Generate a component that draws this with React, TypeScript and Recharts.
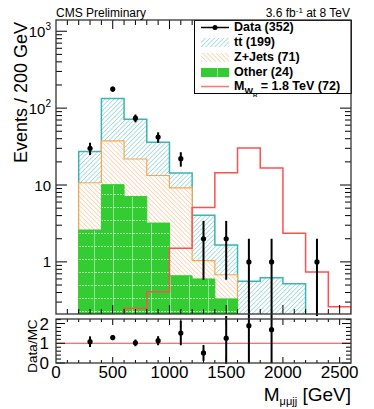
import React from 'react';
import { ComposedChart, Area, Line, Scatter, ErrorBar, XAxis, YAxis, ReferenceLine, Legend } from 'recharts';

const FONT = "'Liberation Sans', Arial, Helvetica, sans-serif";

// histogram bins: lower edges in GeV, last bin closes at 2600
const binLow = [0, 200, 400, 600, 800, 1000, 1200, 1400, 1600, 1800, 2000, 2200, 2400];
const binHigh = 2600;
const ttbar = [0, 16.6, 95.5, 49.7, 22.7, 5.2, 3.0, 0.98, 0.56, 0.62, 0.52, 0, 0];
const zjets = [0, 8.1, 27.4, 14.7, 10.1, 8.5, 0.44, 0.35, 0, 0, 0, 0, 0];
const other = [0, 2.6, 10.1, 7.1, 3.2, 0.66, 0.6, 0.33, 0, 0, 0, 0, 0];
const signal = [0, 0, 0, 0.25, 0.41, 1.5, 5.1, 14.4, 30.2, 16.7, 2.35, 0.74, 0.26];

const dataMass = [300, 500, 700, 900, 1100, 1300, 1500, 1700, 1900, 2300];
const dataCount = [30, 177, 74, 42, 22, 2, 2, 1, 1, 1];

const ratioMass = [300, 500, 700, 900, 1100, 1300, 1500, 1700, 1900];
const ratioValue = [1.08, 1.29, 1.02, 1.13, 1.52, 0.51, 1.26, 1.89, 1.69];
const ratioError = [0.27, 0.13, 0.17, 0.23, 0.62, 0.4, 1.3, 1.9, 1.7];

const xMajorLabels = [0, 500, 1000, 1500, 2000, 2500];

// frame geometry (page pixels)
const PL = 56;
const PR = 351;
const PT = 20;
const PB = 314;
const MAIN_H = 316;
const RATIO_TOP = 316;
const RATIO_H = 93;
const RT = 3; // ratio pad, local coords
const RB = 47;

const Y_MIN = 0.21;
const Y_MAX = 1400;
const FLOOR = 1e-3; // empty bins sit below the axis

const lift = (v: number) => (v > 0 ? v : FLOOR);

const histRows = binLow.map((x, i) => {
  const o = other[i];
  const z = o + zjets[i];
  const t = z + ttbar[i];
  return { x, other: lift(o), zjCum: lift(z), total: lift(t), signal: lift(signal[i]) };
});
histRows.push({ x: binHigh, other: FLOOR, zjCum: FLOOR, total: FLOOR, signal: FLOOR });

const dataRows = dataMass.map((x, i) => {
  const n = dataCount[i];
  const s = Math.sqrt(n);
  return { x, y: n, err: [n - Math.max(n - s, 0.01), s] };
});

const ratioRows = ratioMass.map((x, i) => ({ x, y: ratioValue[i], err: ratioError[i] }));

const xTicks: number[] = [];
for (let v = 100; v < binHigh; v += 100) xTicks.push(v);

const yTicks: number[] = [];
[0.1, 1, 10, 100, 1000].forEach(d => {
  for (let k = 1; k <= 9; k++) {
    const v = k * d;
    if (v >= Y_MIN && v <= Y_MAX) yTicks.push(v);
  }
});

const ratioTicks: number[] = [];
for (let k = 1; k <= 11; k++) ratioTicks.push(k * 0.2);

const mainXTick = (props: any) => {
  const { x, payload } = props;
  const major = payload.value % 500 === 0;
  const len = major ? 9 : 5;
  return (
    <g>
      <line x1={x} x2={x} y1={PB} y2={PB - len} stroke="#000" />
      <line x1={x} x2={x} y1={PT} y2={PT + len} stroke="#000" />
    </g>
  );
};

const mainYTick = (props: any) => {
  const { y, payload } = props;
  const v = payload.value;
  const e = Math.round(Math.log10(v));
  const major = Math.abs(Math.log10(v) - e) < 1e-6;
  const len = major ? 11 : 6;
  return (
    <g>
      <line x1={PL} x2={PL + len} y1={y} y2={y} stroke="#000" />
      <line x1={PR} x2={PR - len} y1={y} y2={y} stroke="#000" />
      {major && (
        <text x={PL - 5} y={y + 5.5} textAnchor="end" fontSize={15} fontFamily={FONT} fill="#000">
          {e === 0 ? '1' : '10'}
          {e >= 2 && (
            <tspan dy={-7} fontSize={10}>
              {e}
            </tspan>
          )}
        </text>
      )}
    </g>
  );
};

const ratioXTick = (props: any) => {
  const { x, payload } = props;
  const v = payload.value;
  const major = v % 500 === 0;
  const len = major ? 6 : 3;
  return (
    <g>
      <line x1={x} x2={x} y1={RB} y2={RB - len} stroke="#000" />
      <line x1={x} x2={x} y1={RT} y2={RT + len} stroke="#000" />
    </g>
  );
};

const ratioYTick = (props: any) => {
  const { y, payload } = props;
  const v = payload.value;
  const major = Math.abs(v - Math.round(v)) < 1e-6;
  const len = major ? 9 : 5;
  return (
    <g>
      <line x1={PL} x2={PL + len} y1={y} y2={y} stroke="#000" />
      <line x1={PR} x2={PR - len} y1={y} y2={y} stroke="#000" />
      {major && (
        <text x={PL - 7} y={y + 6} textAnchor="end" fontSize={17} fontFamily={FONT} fill="#000">
          {Math.round(v)}
        </text>
      )}
    </g>
  );
};

const dataDot = (props: any) => <circle cx={props.cx} cy={props.cy} r={2.6} fill="#000" />;

const Patterns = ({ prefix }: { prefix: string }) => (
  <defs>
    <pattern id={`${prefix}TT`} width="3.2" height="3.2" patternUnits="userSpaceOnUse" patternTransform="rotate(45)">
      <rect width="3.2" height="3.2" fill="#fff" />
      <line x1="0" y1="0" x2="0" y2="3.2" stroke="#5fc2c2" strokeWidth="1" />
    </pattern>
    <pattern id={`${prefix}ZJ`} width="3.2" height="3.2" patternUnits="userSpaceOnUse" patternTransform="rotate(-45)">
      <rect width="3.2" height="3.2" fill="#fff" />
      <line x1="0" y1="0" x2="0" y2="3.2" stroke="#f9b377" strokeWidth="1" />
    </pattern>
    <pattern id={`${prefix}OT`} width="19" height="13" patternUnits="userSpaceOnUse">
      <rect width="19" height="13" fill="#33cc33" />
      <line x1="0" y1="12.5" x2="19" y2="12.5" stroke="#ffffff" strokeOpacity="0.55" strokeDasharray="2 1" />
      <line x1="18.5" y1="0" x2="18.5" y2="13" stroke="#ffffff" strokeOpacity="0.45" />
    </pattern>
  </defs>
);

const LegendBox = () => {
  const row = (top: number, swatch: React.ReactNode, label: React.ReactNode) => (
    <div style={{ position: 'absolute', left: 0, top, height: 15, width: '100%' }}>
      <svg width={36} height={15} style={{ position: 'absolute', left: 4, top: 0 }}>
        {swatch}
      </svg>
      <div style={{ position: 'absolute', left: 39, top: 0, lineHeight: '15px', whiteSpace: 'nowrap' }}>{label}</div>
    </div>
  );
  return (
    <div
      style={{
        position: 'relative',
        width: 158,
        height: 74,
        boxSizing: 'border-box',
        border: '1px solid #000',
        background: '#fff',
        fontFamily: FONT,
        fontWeight: 'bold',
        fontSize: 12.5,
        color: '#000',
      }}
    >
      <svg width={0} height={0} style={{ position: 'absolute' }}>
        <Patterns prefix="lg" />
      </svg>
      {row(
        -1,
        <g>
          <line x1={2} x2={30} y1={7.5} y2={7.5} stroke="#000" strokeWidth={1.5} />
          <circle cx={16} cy={7.5} r={2.5} fill="#000" />
        </g>,
        'Data (352)'
      )}
      {row(
        14,
        <rect x={2} y={3} width={28} height={9} fill="url(#lgTT)" />,
        <span>
          t<span style={{ textDecoration: 'overline' }}>t</span> (199)
        </span>
      )}
      {row(29, <rect x={2} y={3} width={28} height={9} fill="url(#lgZJ)" />, 'Z+Jets (71)')}
      {row(44, <rect x={2} y={3} width={28} height={9} fill="url(#lgOT)" />, 'Other (24)')}
      {row(
        58,
        <line x1={2} x2={30} y1={7.5} y2={7.5} stroke="#ff7777" strokeWidth={1.5} />,
        <span>
          M
          <sub style={{ fontSize: 9 }}>
            W<sub style={{ fontSize: 6 }}>R</sub>
          </sub>{' '}
          = 1.8 TeV (72)
        </span>
      )}
    </div>
  );
};

export default function App() {
  return (
    <div style={{ position: 'absolute', left: 0, top: 0, width: 374, height: 409, background: '#fff' }}>
      <div style={{ position: 'absolute', left: 0, top: 0 }}>
        <ComposedChart
          width={374}
          height={MAIN_H}
          data={histRows}
          margin={{ top: PT, right: 374 - PR, bottom: MAIN_H - PB - 1, left: PL - 1 }}
        >
          <Patterns prefix="h" />
          <Area
            dataKey="total"
            type="stepAfter"
            baseValue="dataMin"
            stroke="#3cb4b4"
            strokeWidth={1.5}
            fill="url(#hTT)"
            fillOpacity={1}
            isAnimationActive={false}
            activeDot={false}
          />
          <Area
            dataKey="zjCum"
            type="stepAfter"
            baseValue="dataMin"
            stroke="#f7a650"
            strokeWidth={1.2}
            fill="url(#hZJ)"
            fillOpacity={1}
            isAnimationActive={false}
            activeDot={false}
          />
          <Area
            dataKey="other"
            type="stepAfter"
            baseValue="dataMin"
            stroke="#33cc33"
            strokeWidth={1}
            fill="url(#hOT)"
            fillOpacity={1}
            isAnimationActive={false}
            activeDot={false}
          />
          <Line
            dataKey="signal"
            type="stepAfter"
            stroke="#ff5050"
            strokeWidth={1.5}
            dot={false}
            activeDot={false}
            isAnimationActive={false}
          />
          <Scatter data={dataRows} dataKey="y" shape={dataDot} isAnimationActive={false}>
            <ErrorBar dataKey="err" direction="y" width={0} stroke="#000" strokeWidth={2} />
          </Scatter>
          <XAxis
            type="number"
            dataKey="x"
            domain={[0, binHigh]}
            ticks={xTicks}
            interval={0}
            height={1}
            axisLine={false}
            tickLine={false}
            tick={mainXTick}
            allowDataOverflow
          />
          <YAxis
            type="number"
            scale="log"
            domain={[Y_MIN, Y_MAX]}
            ticks={yTicks}
            interval={0}
            width={1}
            axisLine={false}
            tickLine={false}
            tick={mainYTick}
            allowDataOverflow
          />
          <Legend
            layout="vertical"
            align="center"
            verticalAlign="middle"
            content={() => <LegendBox />}
            wrapperStyle={{ left: 194, top: 20, width: 158, height: 74 }}
          />
        </ComposedChart>
      </div>

      <div style={{ position: 'absolute', left: 0, top: RATIO_TOP }}>
        <ComposedChart
          width={374}
          height={RATIO_H}
          data={ratioRows}
          margin={{ top: RT, right: 374 - PR, bottom: RATIO_H - RB - 1, left: PL - 1 }}
        >
          <ReferenceLine y={1} stroke="#ff4444" strokeWidth={1} />
          <Scatter data={ratioRows} dataKey="y" shape={dataDot} isAnimationActive={false}>
            <ErrorBar dataKey="err" direction="y" width={0} stroke="#000" strokeWidth={2} />
          </Scatter>
          <XAxis
            type="number"
            dataKey="x"
            domain={[0, binHigh]}
            ticks={xTicks}
            interval={0}
            height={1}
            axisLine={false}
            tickLine={false}
            tick={ratioXTick}
            allowDataOverflow
          />
          <YAxis
            type="number"
            domain={[0, 2.23]}
            ticks={[0, ...ratioTicks]}
            interval={0}
            width={1}
            axisLine={false}
            tickLine={false}
            tick={ratioYTick}
            allowDataOverflow
          />
        </ComposedChart>
      </div>

      <svg
        width={374}
        height={409}
        style={{ position: 'absolute', left: 0, top: 0, pointerEvents: 'none' }}
        fontFamily={FONT}
      >
        <rect x={PL} y={PT} width={PR - PL} height={PB - PT} fill="none" stroke="#333" strokeWidth={1.3} />
        <rect
          x={PL}
          y={RATIO_TOP + RT}
          width={PR - PL}
          height={RB - RT}
          fill="none"
          stroke="#333"
          strokeWidth={1.3}
        />
        <text x={PL} y={16.5} fontSize={12} fill="#000">
          CMS Preliminary
        </text>
        <text x={350} y={16.5} fontSize={12} textAnchor="end" fill="#000">
          3.6 fb
          <tspan dy={-4} fontSize={8}>
            -1
          </tspan>
          <tspan dy={4}> at 8 TeV</tspan>
        </text>
        <text x={27} y={22} fontSize={18} textAnchor="end" transform="rotate(-90 27 22)" fill="#000">
          Events / 200 GeV
        </text>
        <text x={37} y={346} fontSize={13.5} textAnchor="middle" transform="rotate(-90 37 346)" fill="#000">
          Data/MC
        </text>
        {xMajorLabels.map(v => (
          <text
            key={v}
            x={PL + ((PR - PL) * v) / binHigh}
            y={RATIO_TOP + RB + 15}
            fontSize={17}
            textAnchor="middle"
            fill="#000"
          >
            {v}
          </text>
        ))}
        <text x={PR} y={401} fontSize={19} textAnchor="end" fill="#000">
          M
          <tspan dy={4} fontSize={11}>
            μμjj
          </tspan>
          <tspan dy={-4}> [GeV]</tspan>
        </text>
      </svg>
    </div>
  );
}
